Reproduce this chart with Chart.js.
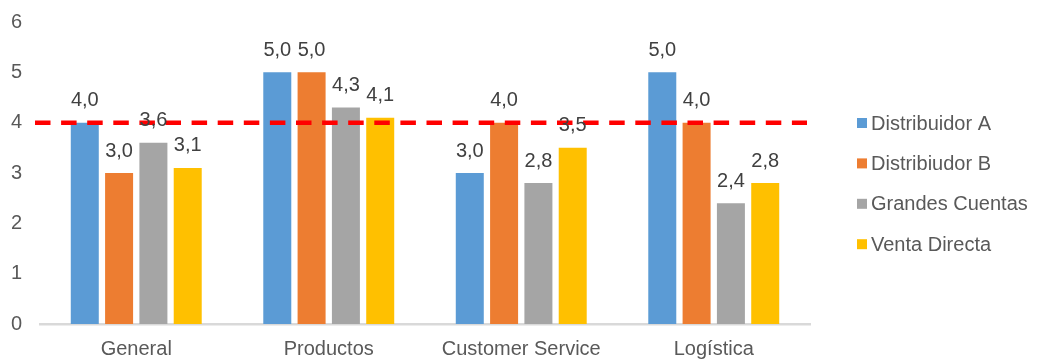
<!DOCTYPE html>
<html>
<head>
<meta charset="utf-8">
<script src="https://cdn.jsdelivr.net/npm/chart.js@4/dist/chart.umd.min.js"></script>
<style>
  html, body { margin: 0; padding: 0; background: #fff; }
  #wrap { width: 1037px; height: 360px; }
</style>
</head>
<body>
<div id="wrap"><canvas id="chartDist"></canvas></div>
<script>
// ── Valoración por canal ──
const categorias = ['General', 'Productos', 'Customer Service', 'Logística'];
const distribuidorA = [4.0, 5.0, 3.0, 5.0];
const distribuidorB = [3.0, 5.0, 4.0, 4.0];
const grandesCuentas = [3.6, 4.3, 2.8, 2.4];
const ventaDirecta = [3.1, 4.1, 3.5, 2.8];
const objetivo = 4;
const yTicks = [0, 1, 2, 3, 4, 5, 6];

const FONT = '"Liberation Sans", Arial, sans-serif';
const FONT_SIZE = 20;

// Línea roja discontinua del objetivo (encima de las barras)
const targetLine = {
  id: 'targetLine',
  afterDatasetsDraw(chart) {
    const { ctx, chartArea, scales } = chart;
    const y = scales.y.getPixelForValue(objetivo);
    ctx.save();
    ctx.strokeStyle = '#ff0000';
    ctx.lineWidth = 4.5;
    ctx.setLineDash([15.5, 10.6]);
    ctx.beginPath();
    ctx.moveTo(chartArea.left - 5, y);
    ctx.lineTo(chartArea.right - 3, y);
    ctx.stroke();
    ctx.restore();
  },
};

// Etiquetas de valor encima de cada barra (formato 4,0)
const valueLabels = {
  id: 'valueLabels',
  afterDatasetsDraw(chart) {
    const ctx = chart.ctx;
    ctx.save();
    ctx.font = FONT_SIZE + 'px ' + FONT;
    ctx.fillStyle = '#404040';
    ctx.textAlign = 'center';
    ctx.textBaseline = 'bottom';
    chart.data.datasets.forEach((ds, i) => {
      chart.getDatasetMeta(i).data.forEach((bar, j) => {
        const txt = ds.data[j].toFixed(1).replace('.', ',');
        ctx.fillText(txt, bar.x, bar.y - 12);
      });
    });
    ctx.restore();
  },
};

// Leyenda a la derecha, dibujada a mano para controlar el hueco
const sideLegend = {
  id: 'sideLegend',
  afterDraw(chart) {
    const { ctx, chartArea } = chart;
    const x = chartArea.right + 47;
    const y0 = 123;
    const step = 40.4;
    ctx.save();
    ctx.font = FONT_SIZE + 'px ' + FONT;
    ctx.textBaseline = 'middle';
    ctx.textAlign = 'left';
    chart.data.datasets.forEach((ds, i) => {
      const y = y0 + i * step;
      ctx.fillStyle = ds.backgroundColor;
      ctx.fillRect(x, y - 5, 10, 10);
      ctx.fillStyle = '#595959';
      ctx.fillText(ds.label, x + 14, y + 1);
    });
    ctx.restore();
  },
};

const serie = (label, data, color) => ({
  label,
  data,
  backgroundColor: color,
  borderWidth: 0,
  barPercentage: 0.816,
  categoryPercentage: 0.713,
});

new Chart(document.getElementById('chartDist'), {
  type: 'bar',
  data: {
    labels: categorias,
    datasets: [
      serie('Distribuidor A', distribuidorA, '#5b9bd5'),
      serie('Distribiudor B', distribuidorB, '#ed7d31'),
      serie('Grandes Cuentas', grandesCuentas, '#a5a5a5'),
      serie('Venta Directa', ventaDirecta, '#ffc000'),
    ],
  },
  options: {
    responsive: true,
    maintainAspectRatio: false,
    animation: false,
    layout: { padding: { top: 22, left: 0, right: 227, bottom: 0 } },
    plugins: {
      tooltip: { enabled: false },
      legend: { display: false },
    },
    scales: {
      x: {
        grid: { display: false, drawTicks: false },
        border: { color: '#d9d9d9', width: 2.5 },
        ticks: { color: '#595959', padding: 13, font: { family: FONT, size: FONT_SIZE } },
        afterFit(axis) {
          axis.height = 36;
          axis.paddingLeft = 0;
          axis.paddingRight = 0;
        },
      },
      y: {
        min: 0,
        max: 6,
        afterBuildTicks(axis) { axis.ticks = yTicks.map(v => ({ value: v })); },
        grid: { display: false, drawTicks: false },
        border: { display: false },
        ticks: { color: '#595959', padding: 18, font: { family: FONT, size: FONT_SIZE } },
        afterFit(axis) {
          axis.width = 40;
          axis.paddingTop = 0;
          axis.paddingBottom = 0;
        },
      },
    },
  },
  plugins: [targetLine, valueLabels, sideLegend],
});
</script>
</body>
</html>
